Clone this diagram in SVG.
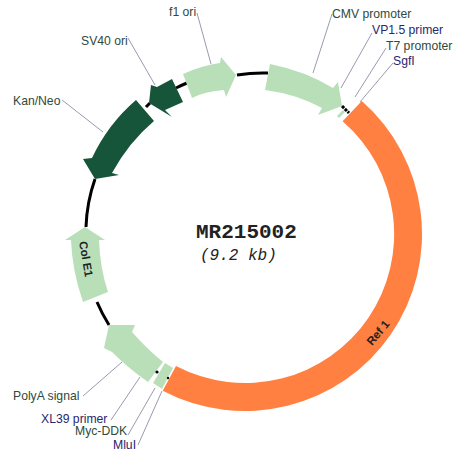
<svg xmlns="http://www.w3.org/2000/svg" width="458" height="453" viewBox="0 0 458 453">
<style>
.t{font-family:"Liberation Sans",Arial,sans-serif;font-size:12.2px;fill:#2f4a3c}
.p{fill:#27276f}
.l{fill:none;stroke:#9a9ab0;stroke-width:1}
.r{fill:none;stroke:#000;stroke-width:3}
.lg{fill:#b9dfb9}
.dg{fill:#17553a}
</style>
<rect width="458" height="453" fill="#fff"/>
<g id="connectors">
<path class="r" d="M237 75A161 161 0 0 1 268 73"/>
<path class="r" d="M176 88A161 161 0 0 1 187 83"/>
<path class="r" d="M146 107A161 161 0 0 1 150 103"/>
<path class="r" d="M95 179A161 161 0 0 0 86 227"/>
<path class="r" d="M97 302A161 161 0 0 0 109 325"/>
<path class="r" d="M342 106L349 113" stroke-dasharray="3 1"/>
<path class="l" d="M332 14L313 73M372 33L341 88M386 48L355 97M393 63L360 102M197 13L211 64M128 38L155 85M62 100L103 132M83 396L122 362M111 420L140 377M128 435L155 388M138 445L162 391"/>
</g>
<g id="ref1"><path d="M361.800 101A177 177 0 0 1 162.700 390.700L176 366A149 149 0 0 0 342.600 121.300Z" fill="#ff8040"/><text class="t" style="fill:#222;font-weight:bold;font-size:11.5px" transform="translate(372 346) rotate(-50)">Ref 1</text></g>
<g id="cmv"><path class="lg" d="M270 64Q305 71 333 88L338 82L342 106L318 115L322 108Q296 94 265 90Z"/></g>
<g id="f1"><path class="lg" d="M183 74Q200 66 220 63L221 57L236 75L226 97L224 90Q206 91 192 98Z"/></g>
<g id="sv40"><path class="dg" d="M172 79L183 102L165 110L172 117L149 103L151 85L157 87Z"/></g>
<g id="kan"><path class="dg" d="M136 100L154 121Q129 142 112 173L119 175L95 179L83 159L92 158Q108 124 136 100Z"/></g>
<g id="cole1"><path class="lg" d="M85 227L105 240L99 240Q100 268 108 292L83 302Q72 270 71 240L65 240Z"/><text class="t" style="fill:#222;font-weight:bold;font-size:11.5px" transform="translate(79 242) rotate(80)">Col E1</text></g>
<g id="polya"><path class="lg" d="M109 325L135 325L132 332Q146 348 163 362L148 382Q128 368 112 352L104 348Z"/></g>
<g id="myc"><path class="lg" d="M165 363L173 368L162 389L153 383Z"/><circle cx="157" cy="372" r="1.6"/><circle cx="168" cy="378" r="1.2"/></g>
<g id="sliver"><path class="lg" d="M343 110L345 112L339 118L337 116Z"/></g>
<g id="labels">
<text class="t" x="332" y="18">CMV promoter</text>
<text class="t p" x="372" y="34">VP1.5 primer</text>
<text class="t" x="386" y="50">T7 promoter</text>
<text class="t p" x="393" y="65">SgfI</text>
<text class="t" x="169" y="16">f1 ori</text>
<text class="t" x="81" y="45">SV40 ori</text>
<text class="t" x="13" y="105">Kan/Neo</text>
<text class="t" x="13" y="400">PolyA signal</text>
<text class="t p" x="41" y="423">XL39 primer</text>
<text class="t" x="75" y="435">Myc-DDK</text>
<text class="t p" x="113" y="449">MluI</text>
</g>
<g id="title">
<text x="196" y="238" style="font-family:'Liberation Mono',monospace;font-size:21px;font-weight:bold;fill:#222">MR215002</text>
<text x="200" y="260" style="font-family:'Liberation Mono',monospace;font-size:16px;font-style:italic;fill:#222">(9.2 kb)</text>
</g>
</svg>
